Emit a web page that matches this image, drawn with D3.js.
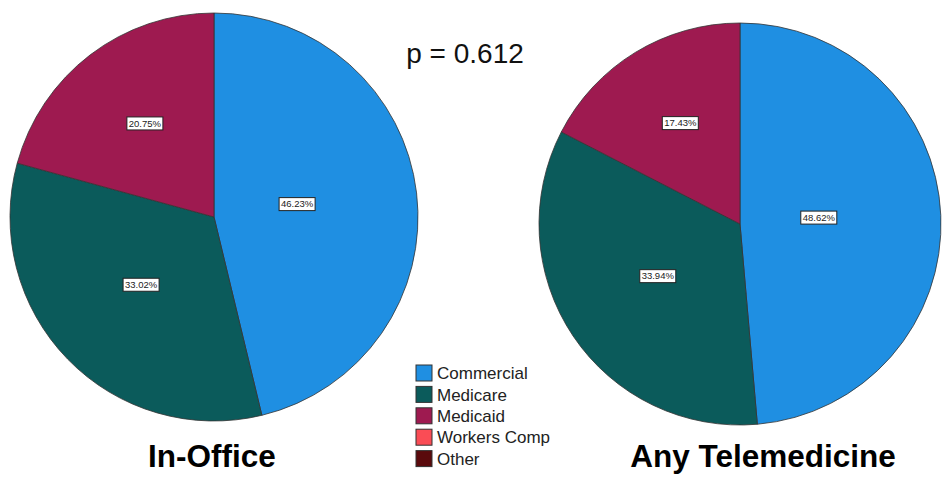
<!DOCTYPE html>
<html>
<head>
<meta charset="utf-8">
<script src="https://d3js.org/d3.v7.min.js"></script>
<style>
  body { margin: 0; background: #fff; }
  svg { display: block; font-family: "Liberation Sans", Arial, sans-serif; }
</style>
</head>
<body>
<svg width="944" height="486"></svg>
<script>
// payer categories + percentages
var categories = ["Commercial", "Medicare", "Medicaid", "Workers Comp", "Other"];
var colors = ["#1f8fe2", "#0b5b5b", "#9e1a50", "#fa4c55", "#5a0a0c"];
var inOffice = [46.23, 33.02, 20.75, 0, 0];
var telemed = [48.62, 33.94, 17.43, 0, 0];
var titles = ["In-Office", "Any Telemedicine"];
var pText = "p = 0.612";

var svg = d3.select("svg");

var color = d3.scaleOrdinal().domain(categories).range(colors);

var pie = d3.pie().sort(null).value(function(d) { return d.v; });

function drawPie(values, cx, cy, R, title, titleX) {
  var data = categories.map(function(c, i) { return {cat: c, v: values[i]}; });
  var arcs = pie(data).filter(function(d) { return d.data.v > 0; });
  var arc = d3.arc().innerRadius(0).outerRadius(R);

  var g = svg.append("g").attr("transform", "translate(" + cx + "," + cy + ")");

  g.selectAll("path.slice")
    .data(arcs)
    .enter().append("path")
      .attr("class", "slice")
      .attr("d", arc)
      .attr("fill", function(d) { return color(d.data.cat); })
      .attr("stroke", "#333")
      .attr("stroke-width", 0.8);

  // labels sit near the sector centroid (a bit pulled in, like SPSS)
  var lab = g.selectAll("g.lab")
    .data(arcs)
    .enter().append("g")
      .attr("class", "lab")
      .attr("transform", function(d) {
        var half = (d.endAngle - d.startAngle) / 2;
        var mid = d.startAngle + half;
        var r = 0.9 * 2 * R * Math.sin(half) / (3 * half);
        return "translate(" + (r * Math.sin(mid)) + "," + (-r * Math.cos(mid) - 3) + ")";
      });

  lab.append("rect")
    .attr("x", -18).attr("y", -6.5)
    .attr("width", 36).attr("height", 13)
    .attr("fill", "#fff")
    .attr("stroke", "#222")
    .attr("stroke-width", 1);

  lab.append("text")
    .attr("text-anchor", "middle")
    .attr("dy", "0.35em")
    .attr("font-size", 9.5)
    .attr("fill", "#222")
    .text(function(d) { return d.data.v.toFixed(2) + "%"; });

  svg.append("text")
    .attr("x", titleX).attr("y", 467)
    .attr("text-anchor", "middle")
    .attr("font-size", 31.5)
    .attr("font-weight", "bold")
    .attr("fill", "#000")
    .text(title);
}

drawPie(inOffice, 214, 217, 204, titles[0], 212);
drawPie(telemed, 740, 224, 201, titles[1], 763);

svg.append("text")
  .attr("x", 465).attr("y", 63)
  .attr("text-anchor", "middle")
  .attr("font-size", 28)
  .attr("fill", "#111")
  .text(pText);

// legend
var y = d3.scaleBand().domain(categories).range([365, 472]).paddingInner(0);

var leg = svg.append("g").selectAll("g")
  .data(categories)
  .enter().append("g")
    .attr("transform", function(d) { return "translate(416," + y(d) + ")"; });

leg.append("rect")
  .attr("width", 16).attr("height", 16)
  .attr("fill", function(d) { return color(d); })
  .attr("stroke", "#333")
  .attr("stroke-width", 1);

leg.append("text")
  .attr("x", 21).attr("y", 8)
  .attr("dy", "0.36em")
  .attr("font-size", 17)
  .attr("fill", "#222")
  .text(function(d) { return d; });
</script>
</body>
</html>
